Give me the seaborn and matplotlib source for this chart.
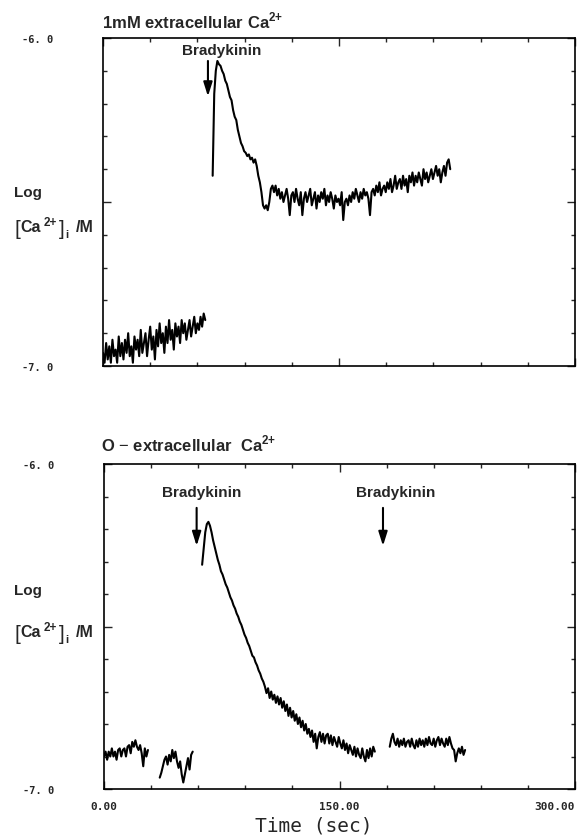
import numpy as np
import pandas as pd
import matplotlib
matplotlib.use("Agg")
import matplotlib.pyplot as plt
from matplotlib.ticker import MultipleLocator, FixedLocator
import seaborn as sns

# --- data (time in sec, log [Ca2+]i / M) ---
# top panel: 1 mM extracellular Ca2+
top_base_t0 = 0.0
top_base_v = [-6.96, -6.99, -6.93, -6.98, -6.94, -6.99, -6.92, -6.97, -6.95, -6.99,
              -6.91, -6.97, -6.93, -6.98, -6.92, -6.96, -6.90, -6.97, -6.94, -6.99,
              -6.91, -6.95, -6.92, -6.97, -6.89, -6.96, -6.93, -6.90, -6.97, -6.92,
              -6.88, -6.95, -6.91, -6.98, -6.89, -6.94, -6.87, -6.93, -6.90, -6.96,
              -6.88, -6.93, -6.86, -6.92, -6.89, -6.95, -6.87, -6.91, -6.88, -6.93,
              -6.86, -6.90, -6.87, -6.92, -6.89, -6.86, -6.91, -6.88, -6.85, -6.90,
              -6.87, -6.89, -6.85, -6.88, -6.84, -6.86]
top_resp_t0 = 69.7
top_resp_v = [-6.42, -6.17, -6.10, -6.07, -6.08, -6.085, -6.10, -6.11, -6.13, -6.14,
              -6.16, -6.18, -6.19, -6.22, -6.24, -6.25, -6.28, -6.30, -6.32, -6.33,
              -6.345, -6.35, -6.36, -6.355, -6.37, -6.365, -6.38, -6.37, -6.39, -6.42,
              -6.44, -6.47, -6.51, -6.52, -6.51, -6.525, -6.50, -6.46, -6.45,
              -6.47, -6.45, -6.48, -6.46, -6.49, -6.47, -6.50, -6.48, -6.46, -6.49,
              -6.54, -6.48, -6.47, -6.50, -6.46, -6.49, -6.51, -6.47, -6.54, -6.49,
              -6.47, -6.50, -6.48, -6.46, -6.51, -6.49, -6.47, -6.52, -6.48, -6.50,
              -6.47, -6.49, -6.46, -6.51, -6.48, -6.50, -6.47, -6.49, -6.52, -6.48,
              -6.50, -6.49, -6.51, -6.47, -6.555, -6.50, -6.49, -6.51, -6.48, -6.50,
              -6.47, -6.49, -6.46, -6.48, -6.50, -6.47, -6.49, -6.46, -6.48, -6.47,
              -6.49, -6.54, -6.47, -6.46, -6.48, -6.45, -6.47, -6.44, -6.48, -6.46,
              -6.45, -6.47, -6.44, -6.46, -6.43, -6.47, -6.45, -6.42, -6.46, -6.44,
              -6.43, -6.46, -6.42, -6.45, -6.43, -6.47, -6.42, -6.44, -6.41, -6.45,
              -6.42, -6.44, -6.41, -6.43, -6.45, -6.40, -6.43, -6.41, -6.44, -6.42,
              -6.40, -6.43, -6.41, -6.39, -6.42, -6.40, -6.44, -6.41, -6.39, -6.42,
              -6.38, -6.37, -6.40]

# bottom panel: 0 extracellular Ca2+
bot_seg1_t0 = 0.0
bot_seg1_v = [-6.90, -6.885, -6.91, -6.885, -6.90, -6.875, -6.90, -6.885, -6.91, -6.88,
              -6.875, -6.90, -6.88, -6.875, -6.90, -6.87, -6.865, -6.89, -6.855, -6.87,
              -6.85, -6.87, -6.88, -6.865, -6.89, -6.93, -6.875, -6.90, -6.88]
bot_seg2_t0 = 35.5
bot_seg2_v = [-6.965, -6.95, -6.93, -6.91, -6.90, -6.925, -6.895, -6.915, -6.88, -6.905,
              -6.885, -6.915, -6.935, -6.915, -6.955, -6.98, -6.955, -6.93, -6.905, -6.94,
              -6.895, -6.885]
bot_seg3_t0 = 62.5
bot_seg3_v = [-6.31, -6.26, -6.21, -6.185, -6.178, -6.19, -6.21, -6.235, -6.255, -6.275,
              -6.295, -6.31, -6.33, -6.34, -6.355, -6.37, -6.38, -6.395, -6.41, -6.42,
              -6.435, -6.445, -6.46, -6.47, -6.485, -6.495, -6.51, -6.525, -6.535, -6.55,
              -6.56, -6.575, -6.59, -6.595, -6.61, -6.62, -6.635, -6.645, -6.66, -6.67,
              -6.685, -6.705, -6.69, -6.72, -6.70, -6.725, -6.71, -6.735, -6.715, -6.74,
              -6.72, -6.75, -6.73, -6.76, -6.74, -6.775, -6.75, -6.78, -6.76, -6.79,
              -6.77, -6.80, -6.78, -6.81, -6.79, -6.82, -6.80, -6.83, -6.815, -6.84,
              -6.82, -6.855, -6.83, -6.875, -6.84, -6.825, -6.855, -6.83, -6.86, -6.835,
              -6.83, -6.86, -6.835, -6.865, -6.84, -6.855, -6.87, -6.84, -6.86, -6.875,
              -6.85, -6.88, -6.86, -6.89, -6.865, -6.88, -6.895, -6.87, -6.90, -6.875,
              -6.895, -6.905, -6.875, -6.90, -6.915, -6.88, -6.905, -6.875, -6.90, -6.87,
              -6.885]
bot_seg4_t0 = 182.0
bot_seg4_v = [-6.87, -6.845, -6.83, -6.855, -6.865, -6.845, -6.87, -6.85, -6.865, -6.845,
              -6.87, -6.855, -6.85, -6.87, -6.845, -6.865, -6.875, -6.85, -6.87, -6.845,
              -6.865, -6.85, -6.87, -6.845, -6.865, -6.84, -6.86, -6.865, -6.845, -6.87,
              -6.85, -6.84, -6.865, -6.845, -6.86, -6.87, -6.845, -6.865, -6.84, -6.86,
              -6.875, -6.88, -6.915, -6.89, -6.875, -6.89, -6.87, -6.895, -6.88]
sample_dt = 1.0  # seconds between samples

# bradykinin additions (sec)
top_bk = [66.7]
bot_bk = [59.0, 177.7]

x_ticks = [0, 150, 300]
x_ticklabels = ["0.00", "150.00", "300.00"]
y_ticks = [-7.0, -6.5, -6.0]
y_ticklabels = ["-7. 0", "", "-6. 0"]


def segment_frame(t0, values):
    t = t0 + sample_dt * np.arange(len(values))
    return pd.DataFrame({"time": t, "logca": values})


sns.set_style("ticks")
plt.rcParams["font.family"] = ["Liberation Sans", "DejaVu Sans"]
plt.rcParams["mathtext.fontset"] = "custom"
plt.rcParams["mathtext.rm"] = "Liberation Sans"
plt.rcParams["mathtext.bf"] = "Liberation Sans:bold"

W, H = 579, 837
fig = plt.figure(figsize=(W / 100, H / 100), dpi=100)
renderer = fig.canvas.get_renderer()
ax1 = fig.add_axes([103 / W, 1 - 367 / H, 472 / W, 328 / H])
ax2 = fig.add_axes([104 / W, 1 - 790 / H, 471 / W, 325 / H])

top_segments = [(top_base_t0, top_base_v), (top_resp_t0, top_resp_v)]
bot_segments = [(bot_seg1_t0, bot_seg1_v), (bot_seg2_t0, bot_seg2_v),
                (bot_seg3_t0, bot_seg3_v), (bot_seg4_t0, bot_seg4_v)]

for ax, segs in [(ax1, top_segments), (ax2, bot_segments)]:
    for t0, vals in segs:
        sns.lineplot(data=segment_frame(t0, vals), x="time", y="logca", ax=ax,
                     color="black", linewidth=1.5)
    ax.set_xlim(0, 300)
    ax.set_ylim(-7, -6)
    ax.set_xlabel("")
    ax.set_ylabel("")
    ax.xaxis.set_major_locator(FixedLocator(x_ticks))
    ax.xaxis.set_minor_locator(MultipleLocator(30))
    ax.yaxis.set_major_locator(FixedLocator(y_ticks))
    ax.yaxis.set_minor_locator(MultipleLocator(0.1))
    ax.tick_params(which="both", direction="in", top=True, right=True, width=1.0)
    ax.tick_params(which="major", length=6)
    ax.tick_params(which="minor", length=3)
    ax.tick_params(axis="y", which="major", pad=36)
    ax.set_yticklabels(y_ticklabels, family="DejaVu Sans Mono", weight="bold", fontsize=7.5)
    for s in ax.spines.values():
        s.set_linewidth(1.2)
        s.set_color("black")

ax1.set_xticklabels([])
ax2.tick_params(axis="x", which="major", pad=9)
ax2.set_xticklabels(x_ticklabels, family="DejaVu Sans Mono", weight="bold", fontsize=8)
ax2.get_xticklabels()[2].set_horizontalalignment("right")

# bradykinin arrows and labels
arrow_kw = dict(arrowstyle="-|>,head_length=0.7,head_width=0.22", color="black",
                lw=1.5, shrinkA=0, shrinkB=0, mutation_scale=12)
for t in top_bk:
    ax1.annotate("", xy=(t, -6.178), xytext=(t, -6.07), arrowprops=arrow_kw)
ax1.text(75.3, -6.049, "Bradykinin", ha="center", va="baseline",
         fontsize=11, weight="bold")
for t, tx in zip(bot_bk, [62.4, 186.0]):
    ax2.annotate("", xy=(t, -6.252), xytext=(t, -6.135), arrowprops=arrow_kw)
    ax2.text(tx, -6.10, "Bradykinin", ha="center", va="baseline",
             fontsize=11, weight="bold")

# titles
fig.text(102 / W, 1 - 28 / H, r"1mM extracellular Ca$^{\mathbf{2{+}}}$",
         fontsize=12, weight="bold", va="baseline", ha="left")
fig.text(101 / W, 1 - 451 / H, r"O $-$ extracellular  Ca$^{\mathbf{2{+}}}$",
         fontsize=12, weight="bold", va="baseline", ha="left")


def chain_label(x_px, base_px, pieces):
    # lay out pieces left to right, each after the previous one's extent
    x = x_px
    for s, size, weight, dy, gap in pieces:
        t = fig.text(x / W, 1 - (base_px + dy) / H, s, fontsize=size,
                     weight=weight, va="baseline", ha="left")
        x = t.get_window_extent(renderer).x1 + gap


ca_pieces = [("[", 15, "normal", 3, 1.0),
             ("Ca", 11.5, "bold", 0, 2.0),
             ("2+", 8.5, "bold", -6, 2.0),
             ("]", 15, "normal", 3, 1.0),
             ("i", 8, "bold", 6, 7),
             ("/M", 11.5, "bold", 0, 0)]
for log_y, ca_y in [(197, 232), (595, 637)]:
    fig.text(14 / W, 1 - log_y / H, "Log", fontsize=11, weight="bold",
             va="baseline", ha="left")
    chain_label(14, ca_y, ca_pieces)

fig.text(314 / W, 1 - 826 / H, "Time (sec)", family="DejaVu Sans Mono",
         fontsize=14, ha="center", va="center")

fig.savefig("out.png", dpi=100)
